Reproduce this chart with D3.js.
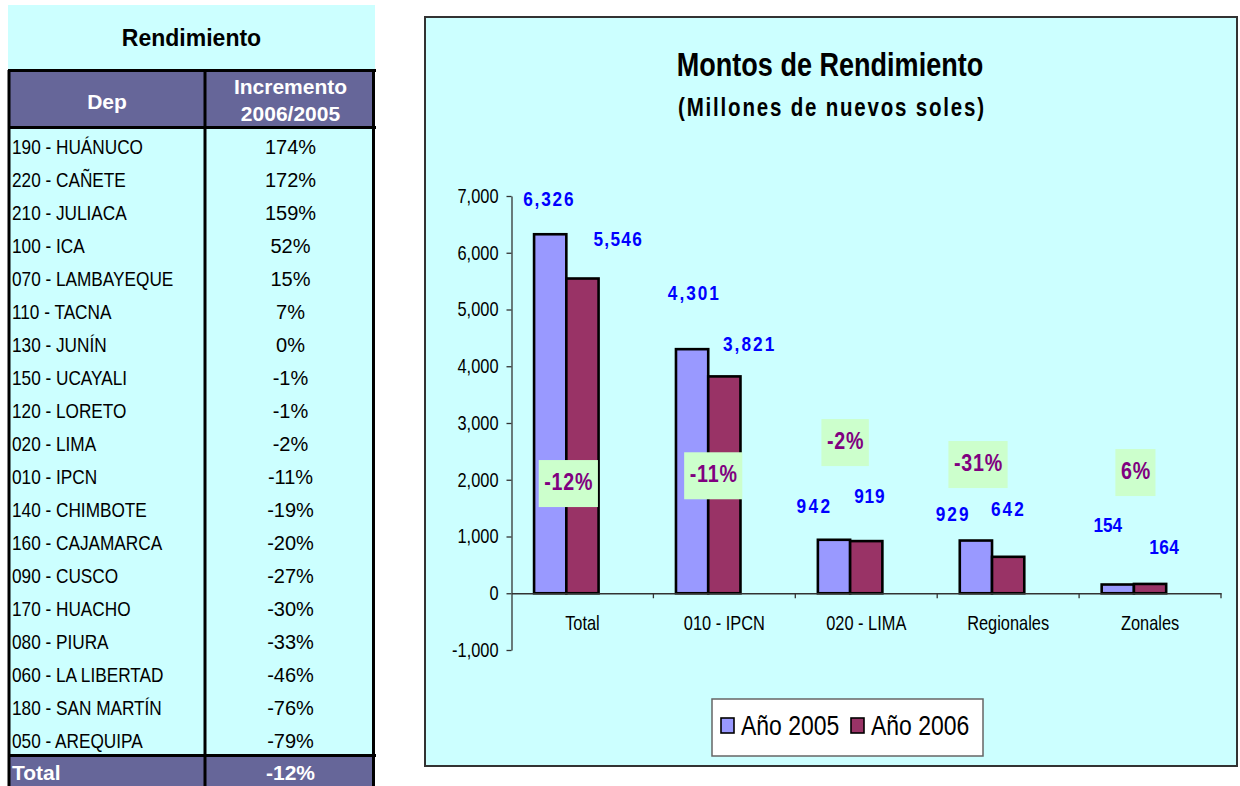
<!DOCTYPE html>
<html><head><meta charset="utf-8">
<script src="https://cdn.jsdelivr.net/npm/d3@7"></script>
<style>body{margin:0;background:#fff;} svg{display:block;}</style>
</head><body><svg id="c" width="1240" height="786"></svg>
<script>
// ---------- data ----------
const tableTitle = "Rendimiento";
const colHeaderDep = "Dep";
const colHeaderInc = ["Incremento", "2006/2005"];
const deps = ["190 - HUÁNUCO","220 - CAÑETE","210 - JULIACA","100 - ICA","070 - LAMBAYEQUE","110 - TACNA","130 - JUNÍN","150 - UCAYALI","120 - LORETO","020 - LIMA","010 - IPCN","140 - CHIMBOTE","160 - CAJAMARCA","090 - CUSCO","170 - HUACHO","080 - PIURA","060 - LA LIBERTAD","180 - SAN MARTÍN","050 - AREQUIPA"];
const increments = [174,172,159,52,15,7,0,-1,-1,-2,-11,-19,-20,-27,-30,-33,-46,-76,-79];
const totalLabel = "Total";
const totalIncrement = -12;

const chartTitle = "Montos de Rendimiento";
const chartSubtitle = "(Millones de nuevos soles)";
const categories = ["Total","010 - IPCN","020 - LIMA","Regionales","Zonales"];
const seriesNames = ["Año 2005","Año 2006"];
const values2005 = [6326,4301,942,929,154];
const values2006 = [5546,3821,919,642,164];
const changes = [-12,-11,-2,-31,6];
const yTicks = [-1000,0,1000,2000,3000,4000,5000,6000,7000];

// ---------- layout (annotation placement, not data) ----------
const valueLabelNudge = [ // [dx, dy, letterSpacing] relative to bar top centre
  [[-2,-36,2.2],[35,-40,1.6]],
  [[1,-57,2.4],[24,-33,2.5]],
  [[-21,-34,3],[3,-46,1]],
  [[-24,-27,2.6],[-1,-48,2.6]],
  [[-10,-60,0],[14,-37,0.6]]
];
const changeLabelPos = [[2,1933],[5,2070],[-5,2655],[-14,2268],[1.5,2127]]; // [dx from bar seam, y in data units]

const colors = ["#9999FF","#993366"];
const cyan = "#CCFFFF", purple = "#666699";

// ---------- font check ----------
function hasFont(name){
  const c=document.createElement("canvas").getContext("2d");
  c.font="bold 40px monospace"; const a=c.measureText("MMMWWiiilll abc").width;
  c.font=`bold 40px '${name}', monospace`; const b=c.measureText("MMMWWiiilll abc").width;
  return Math.abs(a-b)>0.5;
}
const NARROW_OK = hasFont("Liberation Sans Narrow");
const NF = NARROW_OK ? "'Liberation Sans Narrow','Arial Narrow',sans-serif" : "'Liberation Sans',Arial,sans-serif";
const RF = "'Liberation Sans',Arial,sans-serif";
function narrow(sel){
  if(NARROW_OK) return sel;
  sel.each(function(){
    const x=+this.getAttribute("x")||0, y=+this.getAttribute("y")||0;
    this.setAttribute("transform",`translate(${x},${y}) scale(0.82,1) translate(${-x},${-y})`);
  });
  return sel;
}
const nScale = NARROW_OK ? 1 : 0.82;

const svg = d3.select("#c");

// ================= TABLE =================
const T = {x0:8, x1:375, colX:205, top:5, headTop:70, headBot:128, bodyBot:756, bot:786};
const tg = svg.append("g");
tg.append("rect").attr("x",T.x0).attr("y",T.top).attr("width",T.x1-T.x0).attr("height",T.bodyBot-T.top).attr("fill",cyan);
tg.append("rect").attr("x",T.x0).attr("y",T.headTop).attr("width",T.x1-T.x0).attr("height",T.headBot-T.headTop).attr("fill",purple);
tg.append("rect").attr("x",T.x0).attr("y",T.bodyBot).attr("width",T.x1-T.x0).attr("height",T.bot-T.bodyBot).attr("fill",purple);

tg.append("text").attr("x",(T.x0+T.x1)/2).attr("y",38).attr("dy","0.35em")
  .attr("text-anchor","middle").attr("font-family",RF).attr("font-weight","bold").attr("font-size",23)
  .text(tableTitle);
tg.append("text").attr("x",107).attr("y",101.5).attr("dy","0.35em").attr("text-anchor","middle")
  .attr("font-family",RF).attr("font-weight","bold").attr("font-size",21).attr("fill","#fff").text(colHeaderDep);
tg.selectAll("text.h2").data(colHeaderInc).join("text").attr("class","h2")
  .attr("x",290.5).attr("y",(d,i)=>87+i*27).attr("dy","0.35em").attr("text-anchor","middle")
  .attr("font-family",RF).attr("font-weight","bold").attr("font-size",21).attr("fill","#fff").text(d=>d);

const rowY = d3.scaleBand().domain(deps).range([130,757]);
const rows = deps.map((d,i)=>({dep:d, inc:increments[i]}));
narrow(tg.selectAll("text.dep").data(rows).join("text").attr("class","dep")
  .attr("x",12).attr("y",d=>rowY(d.dep)+rowY.bandwidth()/2).attr("dy","0.35em")
  .attr("font-family",NF).attr("font-size",21).attr("fill","#000").text(d=>d.dep));
tg.selectAll("text.inc").data(rows).join("text").attr("class","inc")
  .attr("x",290.5).attr("y",d=>rowY(d.dep)+rowY.bandwidth()/2).attr("dy","0.35em").attr("text-anchor","middle")
  .attr("font-family",RF).attr("font-size",20).attr("fill","#000").text(d=>d.inc+"%");

tg.append("text").attr("x",12).attr("y",773).attr("dy","0.35em").attr("font-family",RF).attr("font-weight","bold")
  .attr("font-size",21).attr("fill","#fff").text(totalLabel);
tg.append("text").attr("x",290.5).attr("y",773).attr("dy","0.35em").attr("text-anchor","middle").attr("font-family",RF)
  .attr("font-weight","bold").attr("font-size",21).attr("fill","#fff").text(totalIncrement+"%");

const lines = [
  [T.x0,T.headTop+0.5,376,T.headTop+0.5],
  [T.x0,T.headBot-0.5,376,T.headBot-0.5],
  [T.x0,T.bodyBot-0.5,376,T.bodyBot-0.5],
  [T.x0+1,T.headTop,T.x0+1,T.bot],
  [T.colX,T.headTop,T.colX,T.bot],
  [373.5,T.headTop,373.5,T.bot]
];
tg.selectAll("line.g").data(lines).join("line").attr("class","g")
  .attr("x1",d=>d[0]).attr("y1",d=>d[1]).attr("x2",d=>d[2]).attr("y2",d=>d[3])
  .attr("stroke","#000").attr("stroke-width",3);

// ================= CHART =================
const F = {x:425, y:17, w:812, h:749};
svg.append("rect").attr("x",F.x).attr("y",F.y).attr("width",F.w).attr("height",F.h)
  .attr("fill",cyan).attr("stroke","#333").attr("stroke-width",2);

narrow(svg.append("text").attr("x",830).attr("y",76).attr("text-anchor","middle")
  .attr("font-family",NF).attr("font-weight","bold").attr("font-size",33).text(chartTitle));
narrow(svg.append("text").attr("x",832).attr("y",116).attr("text-anchor","middle")
  .attr("font-family",NF).attr("font-weight","bold").attr("font-size",25).attr("letter-spacing",2.2).text(chartSubtitle));

const plot = {left:511.5, right:1221, top:196, bottom:650};
const y = d3.scaleLinear().domain([-1000,7000]).range([plot.bottom, plot.top]);
const x0 = d3.scaleBand().domain(categories).range([plot.left, plot.right]);
// third (empty) slot reproduces Excel's hidden series spacing
const x1 = d3.scaleBand().domain(["s0","s1","s2"]).range([0, x0.bandwidth()]).paddingOuter(0.7);

const barData = categories.flatMap((c,i)=>[
  {c, i, s:0, key:"s0", v:values2005[i]},
  {c, i, s:1, key:"s1", v:values2006[i]}
]);

const fmt = v => d3.format(",")(v).replace("\u2212","-");

// axes
const yAxis = svg.append("g").attr("transform",`translate(${plot.left},0)`)
  .call(d3.axisLeft(y).tickValues(yTicks).tickFormat(fmt).tickSize(5).tickSizeOuter(0).tickPadding(8));
yAxis.select(".domain").attr("stroke","#333").attr("stroke-width",1.3);
yAxis.selectAll(".tick line").attr("stroke","#333").attr("stroke-width",1.3);
narrow(yAxis.selectAll(".tick text").attr("font-family",NF).attr("font-size",20).attr("fill","#000"));

// bars
svg.append("g").selectAll("rect").data(barData).join("rect")
  .attr("x",d=>x0(d.c)+x1(d.key)).attr("width",x1.bandwidth())
  .attr("y",d=>y(Math.max(0,d.v))).attr("height",d=>Math.abs(y(d.v)-y(0)))
  .attr("fill",d=>colors[d.s]).attr("stroke","#000").attr("stroke-width",2.6);

// x axis
const xAxis = svg.append("g").attr("transform",`translate(0,${y(0)})`)
  .call(d3.axisBottom(x0).tickSize(0).tickSizeOuter(0).tickPadding(23));
xAxis.select(".domain").attr("stroke","#333").attr("stroke-width",1.3);
narrow(xAxis.selectAll(".tick text").attr("font-family",NF).attr("font-size",20).attr("fill","#000"));
const bounds = categories.slice(1).map(c=>x0(c)).concat([x0(categories[categories.length-1])+x0.bandwidth()]);
svg.append("g").selectAll("line").data(bounds).join("line")
  .attr("x1",d=>d).attr("x2",d=>d).attr("y1",y(0)).attr("y2",y(0)+5)
  .attr("stroke","#333").attr("stroke-width",1.3);

// value labels
narrow(svg.append("g").selectAll("text").data(barData).join("text")
  .attr("x",d=>{const n=valueLabelNudge[d.i][d.s]; return x0(d.c)+x1(d.key)+x1.bandwidth()/2+n[0]+n[2]/2;})
  .attr("y",d=>y(d.v)+valueLabelNudge[d.i][d.s][1]).attr("dy","0.36em")
  .attr("text-anchor","middle").attr("letter-spacing",d=>valueLabelNudge[d.i][d.s][2])
  .attr("font-family",NF).attr("font-weight","bold").attr("font-size",21).attr("fill","#0000FF")
  .text(d=>fmt(d.v)));

// change labels
const chg = svg.append("g");
categories.forEach((c,i)=>{
  const cx = x0(c)+x1("s1")+changeLabelPos[i][0];
  const cy = y(changeLabelPos[i][1]);
  const g = chg.append("g");
  const rect = g.append("rect").attr("fill","#CCFFCC");
  const t = g.append("text").attr("x",cx+0.5).attr("y",cy-2).attr("dy","0.36em").attr("text-anchor","middle")
    .attr("font-family",NF).attr("font-weight","bold").attr("font-size",24).attr("letter-spacing",1)
    .attr("fill","#800080").text(changes[i]+"%");
  narrow(t);
  const w = (t.node().getComputedTextLength())*nScale + 10;
  rect.attr("x",cx-w/2).attr("y",cy-23.5).attr("width",w).attr("height",47);
});

// legend
const L = {x:712, y:699, w:271, h:57};
svg.append("rect").attr("x",L.x).attr("y",L.y).attr("width",L.w).attr("height",L.h)
  .attr("fill","#fff").attr("stroke","#666").attr("stroke-width",1.5);
const legItems = seriesNames.map((n,i)=>({n,i}));
const lg = svg.append("g").selectAll("g").data(legItems).join("g")
  .attr("transform",d=>`translate(${L.x + 9 + d.i*130},${L.y})`);
lg.append("rect").attr("x",0).attr("y",19).attr("width",13).attr("height",15)
  .attr("fill",d=>colors[d.i]).attr("stroke","#000").attr("stroke-width",1.6);
lg.append("text").attr("x",20).attr("y",36).attr("font-family",NF).attr("font-size",28).attr("fill","#000")
  .text(d=>d.n).each(function(){ if(!NARROW_OK){ this.setAttribute("transform","translate(20,36) scale(0.82,1) translate(-20,-36)"); } });
</script>
</body></html>
